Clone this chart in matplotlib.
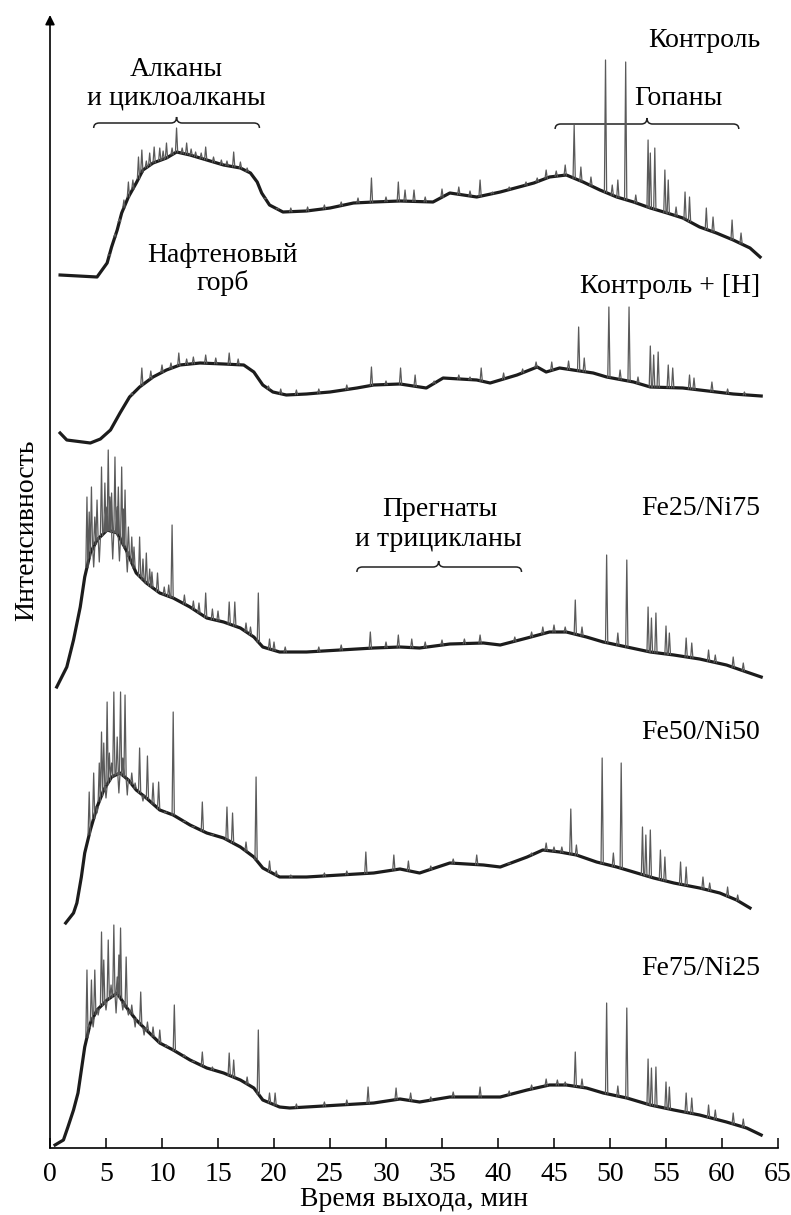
import numpy as np
import matplotlib
matplotlib.use("Agg")
from matplotlib import pyplot as plt
from matplotlib.path import Path
from matplotlib.patches import PathPatch

plt.rcParams["font.family"] = ["Liberation Serif", "DejaVu Serif"]
plt.rcParams["font.size"] = 20

# ---------------- data (retention time, min / intensity, a.u.) ----------------
names = ["Контроль", "Контроль + [H]", "Fe25/Ni75", "Fe50/Ni50", "Fe75/Ni25"]
offsets = [871, 705, 461, 225, 3]

# smoothed baselines
base1_t = [0.9, 4.2, 5.1, 5.5, 6.0, 6.4, 7.0, 7.7, 8.3, 9.2, 10.4, 11.3, 12.5, 14.0, 15.5, 17.0,
           17.9, 18.5, 18.9, 19.6, 20.8, 22.9, 25.0, 27.1, 28.9, 31.25, 34.2, 35.7, 38.1, 40.2,
           43.2, 44.6, 46.1, 47.6, 49.1, 50.6, 52.1, 53.6, 55.1, 56.5, 58.0, 59.5, 61.0, 62.5, 63.4]
base1_i = [2, 0, 14, 30, 47, 64, 80, 94, 107, 114, 119, 125, 122, 117, 112, 109,
           104, 95, 84, 72, 65, 66, 69, 74, 75, 76, 75, 84, 80, 85,
           94, 100, 102, 95, 87, 80, 75, 69, 64, 59, 50, 44, 37, 29, 20]

base2_t = [0.9, 1.5, 3.6, 4.5, 5.4, 6.25, 7.1, 8.0, 9.2, 10.4, 11.6, 13.4, 15.5, 17.3, 18.2, 19.0,
           19.9, 21.1, 22.9, 25.0, 27.4, 28.9, 31.25, 33.6, 35.1, 38.1, 39.3, 41.7, 43.5, 44.3,
           45.5, 46.7, 48.5, 49.7, 52.1, 53.6, 56.5, 59.5, 61.0, 63.5]
base2_i = [10, 3, 0, 4, 13, 30, 46, 56, 66, 73, 78, 80, 79, 78, 71, 58,
           51, 48, 49, 51, 55, 58, 59, 55, 65, 63, 60, 68, 76, 71,
           75, 73, 70, 66, 61, 56, 55, 51, 49, 47]

base3_t = [0.6, 1.5, 2.1, 2.7, 3.1, 3.6, 4.2, 5.1, 6.0, 6.8, 7.7, 8.6, 9.8, 11.0, 12.5, 14.0,
           15.5, 17.0, 18.2, 19.0, 20.5, 22.9, 25.9, 28.9, 31.25, 33.0, 35.7, 38.7, 40.2, 42.6,
           44.6, 46.1, 47.9, 49.4, 51.5, 53.6, 55.7, 58.0, 60.4, 62.2, 63.5]
base3_i = [0, 20, 47, 80, 110, 134, 147, 157, 154, 137, 114, 104, 94, 89, 80, 69,
           65, 59, 50, 40, 35, 35, 37, 39, 40, 39, 43, 44, 42, 49,
           55, 55, 50, 45, 40, 35, 32, 28, 22, 15, 10]

base4_t = [1.4, 2.1, 2.4, 2.8, 3.1, 3.6, 4.2, 4.8, 5.5, 6.25, 7.0, 7.7, 8.6, 9.8, 11.0, 12.5,
           14.0, 15.5, 17.0, 18.2, 19.0, 20.5, 22.9, 25.9, 28.9, 31.25, 33.0, 35.7, 38.7, 40.2,
           42.6, 44.0, 45.5, 47.0, 48.8, 50.6, 52.1, 53.9, 55.7, 58.0, 59.8, 61.3, 62.5]
base4_i = [0, 10, 20, 46, 70, 93, 116, 133, 146, 150, 143, 133, 125, 113, 108, 98,
           90, 85, 76, 66, 55, 46, 46, 48, 50, 54, 50, 60, 58, 56,
           66, 73, 71, 68, 61, 56, 51, 45, 40, 35, 30, 23, 15]

base5_t = [0.45, 1.2, 1.6, 2.1, 2.5, 2.8, 3.1, 3.6, 4.2, 5.1, 6.0, 6.8, 7.7, 8.6, 9.8, 11.0,
           12.5, 14.0, 15.5, 17.0, 18.2, 19.0, 20.5, 21.4, 22.9, 25.9, 28.9, 31.25, 33.0, 35.7,
           38.7, 40.2, 42.6, 44.6, 46.1, 47.9, 49.4, 51.5, 53.6, 55.7, 58.0, 60.4, 62.2, 63.5]
base5_i = [0, 5, 18, 35, 52, 75, 98, 122, 135, 145, 152, 138, 125, 115, 102, 95,
           85, 77, 72, 65, 57, 45, 38, 37, 38, 40, 42, 46, 43, 48,
           48, 48, 55, 60, 60, 57, 52, 47, 40, 35, 30, 23, 17, 10]

# peaks: retention time and apex intensity
peak1_t = [5.3, 5.8, 6.2, 6.6, 7.0, 7.4, 7.9, 8.2, 8.6, 8.9, 9.3, 9.8, 10.1, 10.4, 10.9, 11.3,
           11.8, 12.2, 12.6, 13.0, 13.5, 13.9, 14.6, 15.3, 15.8, 16.4, 17.0, 17.6, 19.2, 20.3,
           21.5, 23.0, 24.5, 26.0, 27.5, 28.7, 30.0, 31.1, 31.7, 32.5, 33.5, 35.0, 36.5, 37.5,
           38.4, 39.5, 41.0, 42.5, 43.5, 44.3, 45.2, 46.0, 46.8, 47.4, 48.3, 49.6, 50.2, 50.7,
           51.4, 52.3, 53.4, 53.6, 54.0, 54.9, 55.2, 55.9, 56.7, 57.1, 58.6, 59.2, 60.9, 61.7]
peak1_i = [22, 43, 58, 77, 95, 97, 120, 127, 116, 124, 130, 129, 126, 134, 129, 149,
           129, 134, 128, 125, 124, 130, 120, 117, 116, 125, 115, 109, 78, 69,
           69, 70, 72, 75, 79, 99, 80, 95, 87, 87, 80, 88, 90, 86,
           97, 85, 90, 95, 99, 107, 106, 112, 152, 110, 100, 217, 92, 97,
           215, 82, 137, 124, 129, 107, 97, 70, 85, 80, 69, 60, 57, 44]

peak2_t = [7.3, 8.2, 9.0, 10.0, 10.8, 11.5, 12.2, 12.8, 13.9, 14.8, 16.0, 16.8, 19.5, 20.6,
           22.0, 24.0, 26.5, 28.7, 30.0, 31.3, 32.6, 34.3, 36.5, 37.5, 38.5, 40.5, 42.2, 43.4,
           44.8, 46.3, 47.2, 47.7, 49.9, 50.9, 51.7, 52.5, 53.6, 53.9, 54.3, 55.2, 55.6, 57.1,
           57.5, 59.1, 60.5, 62.0]
peak2_i = [50, 75, 72, 78, 80, 90, 84, 86, 88, 85, 90, 84, 57, 54,
           53, 54, 58, 76, 62, 75, 68, 62, 68, 66, 75, 70, 74, 81,
           81, 82, 116, 85, 136, 73, 136, 66, 97, 88, 91, 78, 75, 68,
           65, 61, 54, 51]

peak3_t = [3.3, 3.5, 3.7, 3.9, 4.0, 4.2, 4.4, 4.6, 4.9, 5.0, 5.2, 5.35, 5.5, 5.6, 5.8, 6.0,
           6.1, 6.2, 6.4, 6.55, 6.7, 6.9, 7.0, 7.3, 7.5, 8.0, 8.3, 8.6, 8.9, 9.1, 9.6, 10.2,
           10.6, 10.9, 12.0, 12.8, 13.3, 13.9, 14.5, 15.0, 16.0, 16.5, 17.5, 17.9, 18.6, 19.6,
           20.0, 21.0, 24.0, 26.0, 28.6, 30.0, 31.1, 32.3, 33.5, 35.0, 37.0, 38.4, 41.5, 43.0,
           44.0, 45.0, 46.0, 46.9, 47.5, 49.7, 50.7, 51.5, 53.4, 53.7, 54.1, 55.0, 55.3, 56.8,
           57.3, 58.8, 59.4, 61.0, 61.9]
peak3_i = [190, 175, 200, 120, 170, 187, 125, 220, 204, 180, 237, 190, 194, 128, 230, 180,
           200, 126, 220, 178, 197, 115, 160, 150, 140, 150, 128, 134, 118, 115, 114, 100,
           102, 162, 92, 86, 84, 94, 78, 76, 85, 85, 64, 60, 94, 48,
           45, 40, 40, 42, 55, 45, 52, 48, 45, 47, 48, 52, 50, 55,
           60, 62, 60, 87, 60, 132, 54, 127, 80, 69, 74, 61, 54, 49,
           44, 37, 32, 30, 24]

peak4_t = [3.5, 3.9, 4.2, 4.4, 4.6, 4.8, 5.0, 5.1, 5.3, 5.5, 5.7, 6.0, 6.15, 6.3, 6.5, 6.7,
           6.9, 7.3, 7.6, 8.0, 8.3, 8.7, 9.2, 9.7, 10.3, 11.0, 12.0, 12.8, 13.6, 14.5, 15.8,
           16.3, 17.5, 18.4, 19.6, 20.2, 21.5, 24.5, 26.5, 28.2, 30.7, 32.0, 34.0, 36.0, 38.1,
           41.0, 43.0, 44.3, 45.0, 45.7, 46.5, 47.0, 49.3, 50.3, 51.0, 52.9, 53.2, 53.6, 54.5,
           54.9, 56.3, 56.8, 58.3, 58.9, 60.5, 61.4]
peak4_i = [131, 150, 110, 160, 191, 180, 125, 221, 170, 160, 231, 186, 130, 231, 165, 228,
           128, 150, 140, 175, 122, 167, 140, 141, 110, 211, 102, 96, 121, 88, 116,
           110, 81, 146, 62, 52, 48, 50, 52, 71, 68, 62, 57, 64, 68,
           60, 70, 80, 76, 76, 114, 78, 165, 70, 160, 96, 88, 93, 73,
           66, 61, 56, 46, 40, 36, 28]

peak5_t = [3.3, 3.5, 3.7, 3.85, 4.0, 4.3, 4.6, 4.8, 5.0, 5.2, 5.45, 5.7, 5.9, 6.0, 6.15, 6.3,
           6.5, 6.8, 7.0, 7.3, 7.6, 8.1, 8.4, 8.7, 9.2, 9.8, 10.4, 11.1, 12.0, 12.8, 13.6, 14.5,
           16.0, 16.4, 17.6, 18.6, 19.6, 20.1, 22.0, 24.5, 26.5, 28.4, 30.9, 32.2, 34.0, 36.0,
           38.4, 41.0, 43.0, 44.3, 45.3, 46.0, 46.9, 47.5, 49.7, 50.7, 51.5, 53.4, 53.7, 54.1,
           55.0, 55.3, 56.8, 57.3, 58.8, 59.4, 61.0, 61.9]
peak5_i = [175, 120, 165, 118, 175, 130, 213, 185, 135, 205, 160, 220, 132, 168, 190, 217,
           135, 188, 130, 140, 118, 153, 110, 123, 118, 115, 100, 140, 90, 84, 93, 78,
           92, 85, 68, 115, 52, 52, 41, 43, 45, 58, 57, 52, 48, 53,
           58, 54, 60, 66, 65, 63, 93, 66, 142, 59, 137, 86, 77, 78,
           63, 58, 52, 47, 40, 35, 32, 26]

bases = [(base1_t, base1_i), (base2_t, base2_i), (base3_t, base3_i),
         (base4_t, base4_i), (base5_t, base5_i)]
peaks = [(peak1_t, peak1_i), (peak2_t, peak2_i), (peak3_t, peak3_i),
         (peak4_t, peak4_i), (peak5_t, peak5_i)]
label_y = [1101, 855, 633, 409, 173]


def brace(ax, x0, x1, xm, y, h_end=5, h_tip=6, r=0.5):
    verts = [(x0, y - h_end), (x0, y), (x0 + r, y), (xm - r, y), (xm, y), (xm, y + h_tip),
             (xm, y), (xm + r, y), (x1 - r, y), (x1, y), (x1, y - h_end)]
    codes = [Path.MOVETO, Path.CURVE3, Path.CURVE3, Path.LINETO, Path.CURVE3, Path.CURVE3,
             Path.CURVE3, Path.CURVE3, Path.LINETO, Path.CURVE3, Path.CURVE3]
    ax.add_patch(PathPatch(Path(verts, codes), fill=False, lw=1.1, color="#222222"))


fig = plt.figure(figsize=(7.91, 12.15), dpi=100)
ax = fig.add_axes([50 / 791, 67 / 1215, 728 / 791, 1133 / 1215])
ax.set_xlim(0, 65)
ax.set_ylim(0, 1133)

w = 0.1
for (bt, bi), (pt, pi), off in zip(bases, peaks, offsets):
    bt = np.array(bt)
    bi = np.array(bi, dtype=float)
    ax.plot(bt, bi + off, color="#1c1c1c", lw=2.3, solid_joinstyle="round")
    px, py = [], []
    for t, h in zip(pt, pi):
        foot = np.interp(t, bt, bi) + off
        px += [t - w, t, t + w, np.nan]
        py += [foot, h + off, foot, np.nan]
    ax.plot(px, py, color="#5a5a5a", lw=0.9)

for name, y in zip(names, label_y):
    ax.text(63.4, y, name, ha="right", va="baseline")

ax.text(11.3, 1072, "Алканы", ha="center", va="baseline")
ax.text(11.3, 1043, "и циклоалканы", ha="center", va="baseline")
brace(ax, 3.9, 18.7, 11.3, 1025)
ax.text(56.1, 1043, "Гопаны", ha="center", va="baseline")
brace(ax, 45.1, 61.5, 53.3, 1024)
ax.text(15.4, 886, "Нафтеновый", ha="center", va="baseline")
ax.text(15.4, 858, "горб", ha="center", va="baseline")
ax.text(34.8, 632, "Прегнаты", ha="center", va="baseline")
ax.text(34.7, 602, "и трицикланы", ha="center", va="baseline")
brace(ax, 27.4, 42.1, 34.7, 581)

for s in ["top", "right", "left"]:
    ax.spines[s].set_visible(False)
ax.spines["bottom"].set_linewidth(1.2)
ax.annotate("", xy=(0, 1), xytext=(0, 0), xycoords="axes fraction",
            arrowprops=dict(arrowstyle="-|>", color="k", lw=1.2, mutation_scale=14,
                            shrinkA=0, shrinkB=0))
ax.set_yticks([])
ax.set_xticks(range(0, 66, 5))
ax.tick_params(axis="x", direction="in", length=7, width=1.1, pad=10)

fig.text(414 / 791, 9 / 1215, "Время выхода, мин", ha="center", va="baseline")
fig.text(27 / 791, 1 - 530 / 1215, "Интенсивность", rotation=90, ha="center", va="center")

fig.savefig("out.png", dpi=100)
